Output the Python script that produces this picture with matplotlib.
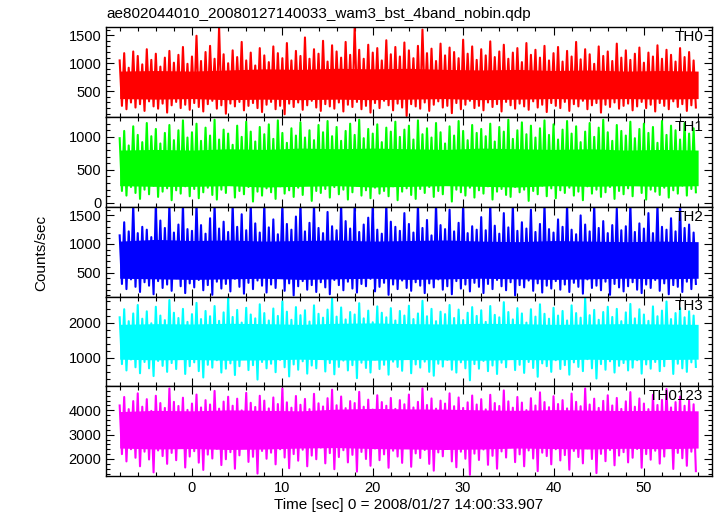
import numpy as np
import matplotlib
matplotlib.use('Agg')
import matplotlib.pyplot as plt
from matplotlib.ticker import MultipleLocator

plt.rcParams['font.family'] = ['Liberation Sans', 'DejaVu Sans']

title = "ae802044010_20080127140033_wam3_bst_4band_nobin.qdp"
xlabel = "Time [sec] 0 = 2008/01/27 14:00:33.907"
ylabel = "Counts/sec"
names = ["TH0", "TH1", "TH2", "TH3", "TH0123"]
colors = ["#ff0000", "#00ff00", "#0000ff", "#00ffff", "#ff00ff"]
t_start = -8.0
t_bin = 0.25      # peak and trough alternate, one pair per 0.5 s
band_step = 4.0

# peaks / troughs of each light curve (counts/sec)
th0_max = [
    1050, 1180, 920, 1210, 1130, 980, 1250, 1060, 1170, 940, 1100, 1220, 1010, 1150, 1290, 990,
    1120, 1490, 1040, 1200, 1310, 1080, 1650, 1160, 1000, 1230, 1110, 1380, 1050, 1190, 960, 1270,
    1140, 1020, 1300, 1180, 1090, 1360, 1050, 1220, 1130, 1460, 1080, 1250, 1170, 1400, 1030, 1320,
    1210, 1100, 1380, 1150, 1650, 1240, 1080, 1330, 1190, 1270, 1050, 1410, 1160, 1290, 1120, 1370,
    1230, 1090, 1310, 1600, 1180, 1260, 1040, 1350, 1140, 1280, 1200, 1090, 1420, 1170, 1300, 1060,
    1250, 1140, 1390, 1110, 1210, 1330, 1080, 1190, 1270, 1020, 1360, 1150, 1240, 1100, 1310, 1050,
    1180, 1290, 1030, 1220, 1120, 1380, 1070, 1250, 1160, 990, 1300, 1130, 1210, 1040, 1350, 1100,
    1230, 1060, 1170, 1280, 1010, 1190, 1120, 1320, 1080, 1240, 1150, 1030, 1270, 1110, 1200, 1050,
]
th0_min = [
    240, 180, 300, 210, 270, 150, 320, 230, 190, 280, 120, 250, 310, 200, 260, 170,
    290, 220, 140, 270, 330, 190, 250, 100, 280, 230, 310, 160, 240, 290, 200, 130,
    260, 310, 180, 240, 90, 280, 220, 300, 170, 250, 330, 210, 150, 270, 230, 190,
    300, 140, 260, 220, 310, 180, 240, 120, 290, 200, 330, 250, 160, 280, 210, 60,
    270, 230, 190, 300, 150, 260, 320, 210, 240, 110, 290, 180, 260, 330, 200, 240,
    160, 300, 220, 270, 140, 310, 250, 190, 280, 230, 170, 320, 210, 260, 130, 290,
    240, 200, 310, 150, 270, 230, 330, 180, 250, 290, 120, 260, 220, 300, 190, 240,
    280, 160, 230, 310, 200, 260, 140, 290, 240, 180, 320, 220, 270, 150, 250, 210,
]
th1_max = [
    980, 1090, 870, 1160, 1030, 920, 1210, 1010, 1120, 900, 1060, 1180, 950, 1100, 1250, 990,
    1070, 1200, 940, 1140, 1020, 1260, 960, 1110, 1050, 880, 1170, 1000, 1230, 1080, 930, 1150,
    1040, 1190, 970, 1250, 1060, 910, 1130, 1020, 1220, 990, 1100, 950, 1180, 1070, 1240, 1010,
    1150, 940, 1090, 1200, 1030, 1260, 980, 1120, 1050, 1190, 920, 1140, 1080, 1230, 1000, 1110,
    1170, 960, 1250, 1040, 1130, 990, 1210, 1070, 900, 1160, 1020, 1240, 1090, 950, 1180, 1060,
    1120, 1010, 1200, 930, 1150, 1080, 1260, 970, 1100, 1220, 1040, 1170, 990, 1130, 1250, 1030,
    1190, 960, 1110, 1240, 1050, 1160, 920, 1080, 1210, 1000, 1140, 1260, 1070, 940, 1180, 1090,
    1020, 1230, 980, 1120, 1200, 1060, 1150, 910, 1240, 1030, 1170, 1100, 960, 1210, 1050, 1130,
]
th1_min = [
    180, 110, 240, 150, 60, 200, 130, 260, 90, 170, 220, 40, 190, 140, 250, 100,
    210, 70, 160, 230, 120, 50, 200, 150, 270, 80, 180, 130, 240, 20, 170, 110,
    220, 160, 60, 250, 140, 190, 90, 230, 120, 270, 30, 180, 150, 210, 80, 240,
    130, 200, 50, 160, 260, 110, 190, 70, 230, 140, 180, 100, 250, 40, 170, 220,
    120, 60, 210, 150, 240, 90, 180, 130, 270, 20, 200, 160, 110, 230, 80, 190,
    140, 250, 50, 170, 210, 120, 90, 240, 160, 200, 30, 180, 130, 260, 100, 220,
    70, 190, 150, 230, 110, 170, 40, 250, 140, 200, 90, 160, 240, 60, 180, 130,
    220, 100, 270, 150, 50, 200, 170, 120, 230, 80, 190, 140, 260, 110, 210, 160,
]
th2_max = [
    1150, 1380, 1220, 1700, 1190, 1300, 1250, 1120, 1700, 1410, 1280, 1700, 1200, 1340, 1700, 1260,
    1230, 1700, 1330, 1180, 1450, 1700, 1270, 1390, 1210, 1700, 1300, 1520, 1240, 1700, 1360, 1200,
    1700, 1290, 1430, 1170, 1700, 1350, 1250, 1480, 1700, 1220, 1370, 1700, 1280, 1190, 1560, 1310,
    1240, 1700, 1400, 1270, 1700, 1210, 1340, 1460, 1700, 1250, 1180, 1700, 1390, 1300, 1230, 1540,
    1350, 1200, 1700, 1280, 1420, 1150, 1700, 1330, 1260, 1600, 1220, 1370, 1700, 1190, 1310, 1250,
    1470, 1240, 1700, 1320, 1180, 1540, 1290, 1700, 1230, 1380, 1270, 1600, 1210, 1350, 1700, 1260,
    1200, 1430, 1300, 1700, 1250, 1170, 1500, 1340, 1220, 1700, 1280, 1400, 1190, 1330, 1620, 1240,
    1310, 1700, 1210, 1360, 1270, 1540, 1190, 1700, 1300, 1250, 1450, 1220, 1700, 1280, 1340, 1200,
]
th2_min = [
    300, 210, 380, 250, 160, 330, 270, 120, 350, 230, 290, 180, 400, 260, 140, 310,
    240, 370, 190, 280, 110, 340, 220, 300, 170, 390, 250, 130, 320, 210, 360, 270,
    150, 290, 230, 410, 180, 310, 100, 260, 350, 200, 280, 160, 330, 240, 120, 370,
    280, 190, 340, 220, 150, 300, 260, 390, 170, 250, 320, 110, 290, 210, 360, 230,
    180, 330, 270, 140, 310, 240, 380, 200, 260, 120, 350, 220, 290, 170, 320, 250,
    140, 300, 210, 370, 260, 190, 330, 100, 280, 240, 360, 180, 310, 150, 270, 220,
    350, 200, 290, 160, 320, 250, 130, 380, 230, 270, 190, 340, 110, 300, 240, 170,
    260, 330, 200, 140, 290, 230, 370, 180, 310, 120, 280, 250, 160, 340, 210, 300,
]
th3_max = [
    2150, 2380, 2040, 2260, 2500, 2110, 2320, 1980, 2450, 2200, 2070, 2640, 2280, 2130, 2390, 2020,
    2240, 2560, 2100, 2330, 2180, 2470, 2050, 2290, 2700, 2160, 2360, 2000, 2420, 2230, 2120, 2520,
    2270, 2060, 2400, 2190, 2600, 2310, 2080, 2440, 2210, 2350, 2030, 2490, 2250, 2140, 2370, 2680,
    2170, 2430, 2090, 2300, 2230, 2550, 2120, 2340, 2010, 2460, 2280, 2150, 2410, 2060, 2330, 2200,
    2480, 2100, 2260, 2620, 2180, 2390, 2040, 2310, 2240, 2500, 2130, 2370, 2070, 2280, 2440, 2190,
    2350, 2020, 2470, 2220, 2150, 2580, 2300, 2090, 2410, 2260, 2000, 2380, 2170, 2520, 2250, 2110,
    2420, 2200, 2330, 2060, 2490, 2270, 2140, 2700, 2210, 2360, 2080, 2300, 2450, 2160, 2390, 2040,
    2290, 2530, 2120, 2380, 2230, 2050, 2460, 2180, 2340, 2600, 2100, 2270, 2410, 2150, 2320, 2200,
]
th3_min = [
    820, 640, 950, 730, 560, 880, 700, 480, 910, 770, 600, 850, 680, 990, 540, 760,
    870, 620, 440, 800, 720, 930, 580, 690, 840, 510, 760, 960, 650, 790, 380, 880,
    700, 830, 590, 940, 730, 470, 810, 660, 900, 550, 780, 700, 980, 610, 850, 530,
    740, 920, 640, 790, 420, 860, 710, 580, 950, 680, 800, 520, 890, 740, 630, 970,
    560, 810, 720, 890, 600, 490, 830, 750, 940, 660, 580, 870, 700, 360, 820, 690,
    910, 620, 780, 540, 860, 730, 970, 650, 800, 570, 880, 710, 460, 840, 760, 600,
    930, 680, 790, 520, 870, 740, 620, 960, 700, 410, 820, 660, 900, 580, 770, 850,
    640, 720, 930, 550, 810, 690, 880, 620, 760, 990, 540, 830, 700, 600, 870, 740,
]
th0123_max = [
    4200, 4550, 4050, 4380, 4700, 4150, 4460, 3980, 4600, 4300, 4100, 4900, 4350, 4180, 4520, 4020,
    4280, 4650, 4120, 4420, 4240, 4800, 4070, 4360, 4560, 4190, 4480, 4000, 4720, 4310, 4140, 4600,
    4400, 4080, 4530, 4260, 4900, 4330, 4110, 4590, 4230, 4470, 4050, 4680, 4290, 4160, 4500, 4850,
    4210, 4570, 4090, 4380, 4300, 4760, 4150, 4440, 4030, 4620, 4340, 4190, 4510, 4060, 4420, 4250,
    4650, 4120, 4350, 4900, 4220, 4490, 4070, 4400, 4280, 4700, 4170, 4530, 4100, 4330, 4610, 4240,
    4460, 4040, 4640, 4300, 4180, 4820, 4370, 4110, 4550, 4320, 4010, 4500, 4200, 4740, 4340, 4130,
    4580, 4260, 4420, 4080, 4690, 4350, 4170, 4900, 4240, 4480, 4100, 4390, 4620, 4200, 4510, 4060,
    4370, 4750, 4150, 4490, 4280, 4050, 4640, 4220, 4430, 4880, 4120, 4340, 4570, 4190, 4410, 4250,
]
th0123_min = [
    2200, 1900, 2400, 2050, 1700, 2300, 1980, 1450, 2350, 2120, 1800, 2250, 1950, 2450, 1650, 2100,
    2320, 1850, 1550, 2180, 2020, 2420, 1750, 1990, 2280, 1600, 2150, 2460, 1880, 2090, 1400, 2330,
    2010, 2260, 1780, 2400, 2060, 1620, 2200, 1930, 2380, 1700, 2140, 1990, 2470, 1820, 2240, 1580,
    2080, 2360, 1860, 2170, 1480, 2290, 2000, 1720, 2430, 1950, 2190, 1640, 2340, 2100, 1840, 2450,
    1680, 2230, 2040, 2370, 1800, 1520, 2270, 2110, 2410, 1900, 1660, 2300, 2010, 1350, 2220, 1960,
    2390, 1760, 2130, 1600, 2310, 2060, 2480, 1870, 2190, 1700, 2350, 2020, 1500, 2260, 2120, 1780,
    2400, 1940, 2160, 1560, 2330, 2080, 1820, 2440, 2000, 1420, 2210, 1910, 2370, 1740, 2140, 2280,
    1860, 2050, 2410, 1640, 2200, 1970, 2340, 1810, 2100, 2460, 1590, 2250, 2030, 1720, 2300, 1500,
]

# fully saturated core of each trace, every 4 s
th0_lo = [370, 360, 370, 350, 360, 350, 360, 350, 360, 370, 350, 360, 370, 360, 370, 360, 370]
th0_hi = [860, 870, 860, 880, 900, 890, 910, 900, 910, 890, 880, 890, 870, 880, 860, 870, 860]
th1_lo = [260, 250, 250, 260, 240, 250, 260, 240, 250, 260, 250, 240, 260, 250, 260, 250, 260]
th1_hi = [800, 810, 800, 820, 810, 830, 820, 830, 820, 810, 830, 820, 810, 820, 800, 810, 800]
th2_lo = [400, 390, 380, 390, 400, 380, 390, 400, 380, 390, 400, 390, 380, 390, 400, 390, 400]
th2_hi = [1050, 1080, 1060, 1070, 1050, 1060, 1070, 1050, 1060, 1070, 1050, 1040, 1060, 1050, 1040, 1050, 1040]
th3_lo = [960, 940, 950, 930, 940, 960, 940, 930, 950, 940, 930, 950, 940, 960, 940, 950, 960]
th3_hi = [1950, 1970, 1960, 1980, 1970, 1950, 1980, 1990, 1970, 1960, 1980, 1970, 1950, 1960, 1970, 1960, 1950]
th0123_lo = [2450, 2410, 2430, 2390, 2410, 2450, 2470, 2430, 2410, 2390, 2410, 2450, 2430, 2410, 2440, 2420, 2450]
th0123_hi = [3950, 4000, 3980, 4020, 4000, 3980, 4050, 4080, 4060, 4050, 4020, 4000, 4030, 4010, 3990, 4000, 3980]

peaks = [th0_max, th1_max, th2_max, th3_max, th0123_max]
troughs = [th0_min, th1_min, th2_min, th3_min, th0123_min]
cores = [(th0_lo, th0_hi), (th1_lo, th1_hi), (th2_lo, th2_hi),
         (th3_lo, th3_hi), (th0123_lo, th0123_hi)]
ylims = [(40, 1640), (-60, 1300), (80, 1650), (190, 2740), (1300, 4990)]
ymajor = [500, 500, 500, 1000, 1000]
yminor = [100, 100, 100, 200, 200]

fig = plt.figure(figsize=(7.17, 5.16), dpi=100)
axes = fig.subplots(5, 1, sharex=True)
fig.subplots_adjust(left=0.148, right=0.9926, bottom=0.0775, top=0.947, hspace=0)

for i, ax in enumerate(axes):
    y = np.column_stack([peaks[i], troughs[i]]).ravel().astype(float)
    t = t_start + t_bin * np.arange(len(y))
    tb = t_start + band_step * np.arange(len(cores[i][0]))
    ax.fill_between(tb, cores[i][0], cores[i][1], color=colors[i], lw=0)
    ax.plot(t, y, color=colors[i], lw=1.5)
    ax.set_ylim(*ylims[i])
    ax.set_xlim(-9.5, 57.5)
    ax.yaxis.set_major_locator(MultipleLocator(ymajor[i]))
    ax.yaxis.set_minor_locator(MultipleLocator(yminor[i]))
    ax.xaxis.set_major_locator(MultipleLocator(10))
    ax.xaxis.set_minor_locator(MultipleLocator(2))
    ax.tick_params(which='both', direction='in', top=True, right=True,
                   labelsize=10.5, width=0.8)
    ax.tick_params(which='major', length=6)
    ax.tick_params(which='minor', length=3)
    for s in ax.spines.values():
        s.set_linewidth(1.0)
    ax.text(0.986, 0.89, names[i], transform=ax.transAxes, ha='right', va='center',
            fontsize=11)

axes[-1].set_xlabel(xlabel, fontsize=11, labelpad=2)
fig.text(0.058, 0.51, ylabel, rotation=90, ha='center', va='center', fontsize=11)
fig.text(0.149, 0.972, title, ha='left', va='center', fontsize=11)

fig.savefig('out.png', dpi=100)
